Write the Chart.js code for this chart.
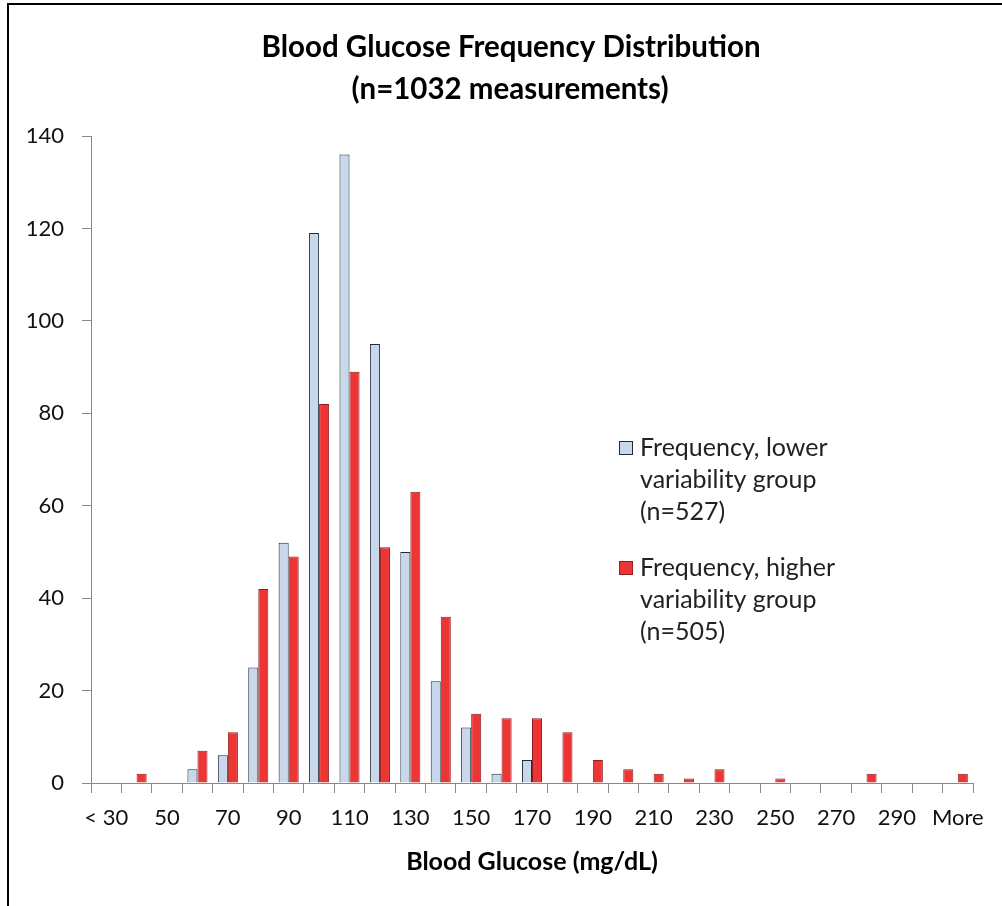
<!DOCTYPE html>
<html>
<head>
<meta charset="utf-8">
<script src="https://cdn.jsdelivr.net/npm/chart.js@4"></script>
<style>
  html, body { margin: 0; padding: 0; background: #fff; overflow: hidden; }
  #frame { position: absolute; left: 7px; top: 3px; width: 1100px; height: 1100px; border: 2px solid #000; }
  #wrap { position: absolute; left: 0; top: 0; width: 1002px; height: 906px; }
</style>
</head>
<body>
<div id="frame"></div>
<div id="wrap"><canvas id="grafico"></canvas></div>
<script>
// categorias do histograma (bins de 10 mg/dL)
const categorias = ["< 30", "40", "50", "60", "70", "80", "90", "100", "110", "120", "130", "140", "150", "160",
  "170", "180", "190", "200", "210", "220", "230", "240", "250", "260", "270", "280", "290", "300", "More"]

const freqBaixa = [0, 0, 0, 3, 6, 25, 52, 119, 136, 95, 50, 22, 12, 2,
  5, 0, 0, 0, 0, 0, 0, 0, 0, 0, 0, 0, 0, 0, 0]
const freqAlta = [0, 2, 0, 7, 11, 42, 49, 82, 89, 51, 63, 36, 15, 14,
  14, 11, 5, 3, 2, 1, 3, 0, 1, 0, 0, 2, 0, 0, 2]

const yTicks = [0, 20, 40, 60, 80, 100, 120, 140]

const titulo = ['Blood Glucose Frequency Distribution', '(n=1032 measurements)']
const legendaBaixa = ["Frequency, lower", "variability group", "(n=527)"]
const legendaAlta = ["Frequency, higher", "variability group", "(n=505)"]

const fonte = "Lato, 'Open Sans', sans-serif"

// titulo centrado na moldura toda (o Excel centra no quadro, nao no plot)
const tituloPlugin = {
  id: 'tituloMoldura',
  afterDraw(chart) {
    const ctx = chart.ctx
    ctx.save()
    ctx.font = "bold 29.5px " + fonte
    ctx.fillStyle = '#000'
    ctx.textAlign = 'center'
    ctx.textBaseline = 'middle'
    ctx.fillText(titulo[0], 511, 47)
    ctx.fillText(titulo[1], 510, 89)
    ctx.restore()
  }
}

// legenda desenhada dentro da area do grafico, como no Excel
const legendaPlugin = {
  id: 'legendaInterna',
  afterDraw(chart) {
    const ctx = chart.ctx
    const grupos = [
      { linhas: legendaBaixa, ds: chart.data.datasets[0], y: 448 },
      { linhas: legendaAlta, ds: chart.data.datasets[1], y: 568 }
    ]
    ctx.save()
    ctx.font = "25px " + fonte
    ctx.textBaseline = 'middle'
    ctx.textAlign = 'left'
    grupos.forEach(g => {
      ctx.fillStyle = g.ds.backgroundColor
      ctx.fillRect(619.5, g.y - 6.5, 13, 13)
      ctx.strokeStyle = g.ds.borderColor
      ctx.lineWidth = 1
      ctx.strokeRect(619.5, g.y - 6.5, 13, 13)
      ctx.fillStyle = '#222'
      g.linhas.forEach((t, i) => ctx.fillText(t, 640, g.y + i * 32))
    })
    ctx.restore()
  }
}

var grafico = document.getElementById('grafico').getContext('2d')
new Chart(grafico, {
  type: 'bar',
  data: {
    labels: categorias,
    datasets: [{
        label: legendaBaixa.join(' '),
        data: freqBaixa,
        backgroundColor: '#C8D8EA',
        borderColor: '#1E2B3C',
        borderWidth: 1,
      },
      {
        label: legendaAlta.join(' '),
        data: freqAlta,
        backgroundColor: '#EE3535',
        borderColor: '#8E1E1E',
        borderWidth: 1,
    }]
  },
  options: {
    responsive: true,
    maintainAspectRatio: false,
    animation: false,
    categoryPercentage: 0.66,
    barPercentage: 1.0,
    layout: { padding: { left: 0, right: 29, top: 136, bottom: 0 } },
    plugins: {
      legend: { display: false },
      tooltip: { enabled: false },
      title: { display: false }
    },
    scales: {
      x: {
        grid: { drawOnChartArea: false, drawTicks: true, tickLength: 10, color: '#888', offset: true },
        border: { color: '#888', width: 1 },
        ticks: {
          autoSkip: false, maxRotation: 0, padding: 12, color: '#111',
          font: { family: fonte, size: 22 },
          callback: function(v, i) { return i % 2 === 0 ? this.getLabelForValue(v) : '' }
        },
        title: {
          display: true, text: 'Blood Glucose (mg/dL)', color: '#000',
          font: { family: fonte, size: 25, weight: 'bold' },
          padding: { top: 0, bottom: 29 }
        },
        afterFit: (scale) => { scale.height = 123 }
      },
      y: {
        min: 0, max: 140,
        grid: { drawOnChartArea: false, drawTicks: true, tickLength: 9, color: '#888' },
        border: { color: '#888', width: 1 },
        afterBuildTicks: (scale) => { scale.ticks = yTicks.map(v => ({ value: v })) },
        ticks: { padding: 18, color: '#111', font: { family: fonte, size: 22 } },
        afterFit: (scale) => { scale.width = 91 }
      }
    }
  },
  plugins: [tituloPlugin, legendaPlugin]
})
</script>
</body>
</html>
